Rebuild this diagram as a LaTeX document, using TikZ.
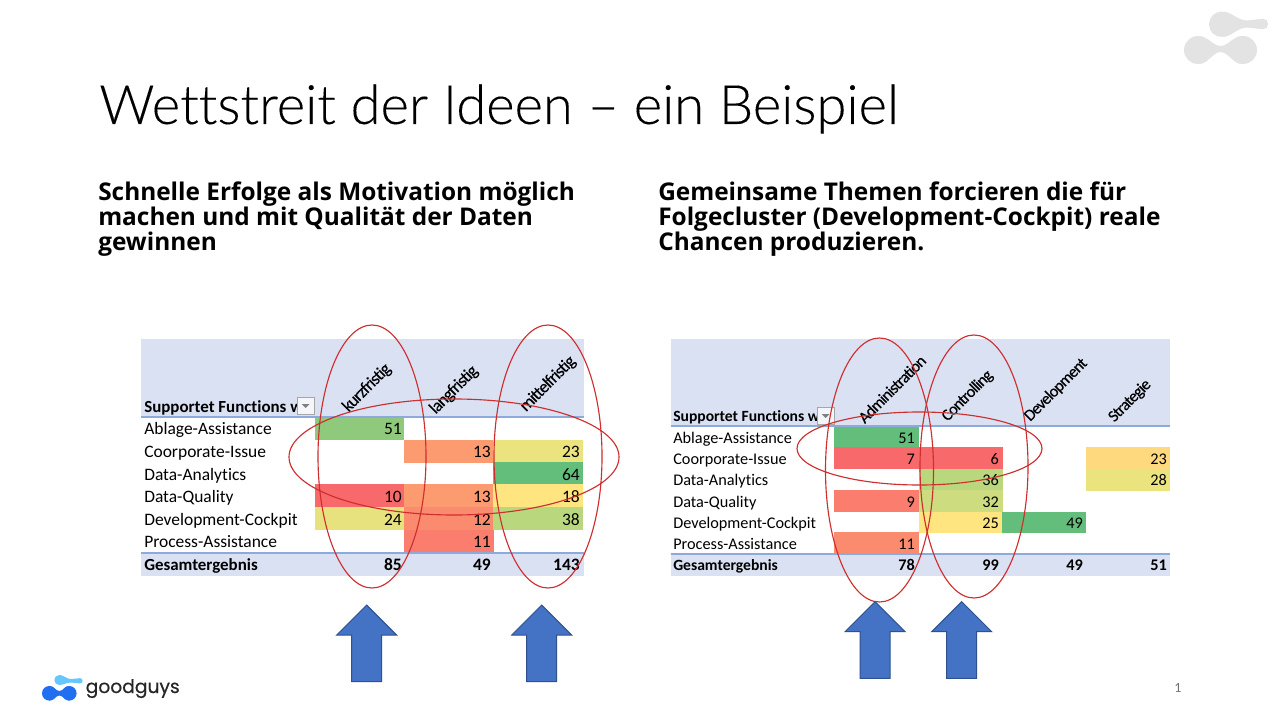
\documentclass[tikz,border=0pt]{standalone}
\usepackage{fontspec}
\setmainfont[Ligatures=NoCommon]{Carlito}
\newfontfamily\headfont{Open Sans}
\newfontfamily\logofont[FakeBold=0.4]{Poppins}
\newfontfamily\titlefont[Ligatures=NoCommon,FakeBold=0.15]{Lato Light}
\newfontfamily\colfont[Ligatures=NoCommon,LetterSpace=-5,FakeBold=0.3]{Carlito}
\definecolor{band}{HTML}{D9E1F2}
\definecolor{rulecol}{HTML}{8EA9DB}
\definecolor{oval}{HTML}{CF2E2E}
\definecolor{arrowfill}{HTML}{4472C4}
\definecolor{arrowline}{HTML}{2F528F}
\definecolor{logogrey}{HTML}{E3E3E3}
\definecolor{logolight}{HTML}{66C7FF}
\definecolor{logoblue}{HTML}{1F6FF0}
\definecolor{cA}{HTML}{8FC97B}
\definecolor{cB}{HTML}{FC9A70}
\definecolor{cC}{HTML}{EBE37E}
\definecolor{cD}{HTML}{63BE7B}
\definecolor{cE}{HTML}{F8696B}
\definecolor{cF}{HTML}{FFE57F}
\definecolor{cG}{HTML}{E8E27E}
\definecolor{cH}{HTML}{FB8B6E}
\definecolor{cI}{HTML}{B9D87E}
\definecolor{cJ}{HTML}{FA7D6E}
\definecolor{cK}{HTML}{FFD97E}
\definecolor{cL}{HTML}{CCDC7E}
\tikzset{
  titletext/.style={anchor=base west,inner sep=0pt,font=\titlefont\fontsize{40.75}{41}\selectfont},
  subhead/.style={anchor=base west,inner sep=0pt,align=left,font=\headfont\bfseries\fontsize{18.3}{18.75}\selectfont},
  rowlabel/.style={anchor=base west,inner sep=0pt,font=\fontsize{13.1}{14}\selectfont},
  rowbold/.style={anchor=base west,inner sep=0pt,font=\bfseries\fontsize{12.7}{14}\selectfont},
  num/.style={anchor=base east,inner sep=0pt,font=\fontsize{13.1}{14}\selectfont},
  numbold/.style={anchor=base east,inner sep=0pt,font=\bfseries\fontsize{13.1}{14}\selectfont},
  rowlabelR/.style={anchor=base west,inner sep=0pt,font=\fontsize{12.2}{14}\selectfont},
  rowboldR/.style={anchor=base west,inner sep=0pt,font=\bfseries\fontsize{11.7}{14}\selectfont},
  numR/.style={anchor=base east,inner sep=0pt,font=\fontsize{12.2}{14}\selectfont},
  numboldR/.style={anchor=base east,inner sep=0pt,font=\bfseries\fontsize{12.2}{14}\selectfont},
  colhead/.style={rotate=45,inner sep=0pt,font=\colfont\fontsize{13}{14}\selectfont},
  colheadR/.style={rotate=45,inner sep=0pt,font=\colfont\fontsize{12.3}{14}\selectfont},
  ovalmark/.style={draw=oval,line width=0.85pt},
  uparrow/.style={fill=arrowfill,draw=arrowline,line width=0.75pt,line join=miter},
  filterbtn/.style={fill=band!30,draw=black!35,line width=0.5pt},
  filtertri/.style={fill=black!50},
  tablerule/.style={draw=rulecol,line width=0.8pt},
}
\newcommand{\cellbox}[5]{\fill[#5] (#1,#2) rectangle (#3,#4);}
\newcommand{\uparr}[3]{%
  \draw[uparrow] (#1,#2) -- (#1+30,#2+30) -- (#1+15,#2+30) -- (#1+15,#3) -- (#1-15,#3) -- (#1-15,#2+30) -- (#1-30,#2+30) -- cycle;}
\newcommand{\filterbox}[2]{%
  \filldraw[filterbtn] (#1,#2) rectangle (#1+17,#2+17);
  \fill[filtertri] (#1+4.5,#2+7) -- (#1+12.5,#2+7) -- (#1+8.5,#2+11) -- cycle;}
\begin{document}
\begin{tikzpicture}[x=0.75pt,y=-0.75pt]
\useasboundingbox (0,0) rectangle (1280,720);
\fill[white] (0,0) rectangle (1280,720);

% grey logo
\begin{scope}[fill=logogrey]
  \fill (1221.7,24.3) circle [radius=12.7];
  \fill (1263,24) circle [radius=5.2];
  \fill (1224,11.8) .. controls (1232,12.5) and (1238,20.5) .. (1247,20.5) -- (1263,18.8) -- (1263,29.2) -- (1247,27.5) .. controls (1238,27.5) and (1232,36) .. (1224,36.8) -- cycle;
  \fill (1198,50) circle [radius=14];
  \fill (1243,50) circle [radius=14];
  \fill (1198,36) .. controls (1208,36) and (1213,46) .. (1220.5,46) .. controls (1228,46) and (1233,36) .. (1243,36) -- (1243,64) .. controls (1233,64) and (1228,52) .. (1220.5,52) .. controls (1213,52) and (1208,64) .. (1198,64) -- cycle;
\end{scope}

% colour logo
\fill[logolight] (59.3,680) circle [radius=5];
\fill[logolight] (80,680.8) circle [radius=2.6];
\fill[logolight] (60,675) .. controls (64,675.5) and (67,679) .. (71,679) -- (80,678.2) -- (80,683.4) -- (71,682.5) .. controls (67,682.5) and (64,684.5) .. (60,685) -- cycle;
\fill[logoblue] (49.3,693.3) circle [radius=7.3];
\fill[logoblue] (69.3,693.3) circle [radius=7.3];
\fill[logoblue] (49.3,686) .. controls (54,686) and (56,691) .. (59.3,691) .. controls (63,691) and (65,686) .. (69.3,686) -- (69.3,700.6) .. controls (65,700.6) and (63,695.5) .. (59.3,695.5) .. controls (56,695.5) and (54,700.6) .. (49.3,700.6) -- cycle;
\node[anchor=base west,inner sep=0pt,text=black!85,font=\logofont\fontsize{14}{16}\selectfont] (brand) at (85.5,693) {goodguys};
\node[anchor=base,inner sep=0pt,text=black!55,font=\fontsize{10.5}{12}\selectfont] (pageno) at (1178,692) {1};

\node[titletext] (title) at (99,124) {Wettstreit der Ideen – ein Beispiel};
\node[subhead] (subL) at (98,251) {Schnelle Erfolge als Motivation möglich\\machen und mit Qualität der Daten\\gewinnen};
\node[subhead] (subR) at (658,251) {Gemeinsame Themen forcieren die für\\Folgecluster (Development-Cockpit) reale\\Chancen produzieren.};

% ---------- left table ----------
\fill[band] (141,339) rectangle (584,417);
\fill[band] (141,553) rectangle (584,576);
\cellbox{315}{417}{404}{439.5}{cA}
\cellbox{404}{439.5}{493}{463}{cB}
\cellbox{493}{439.5}{583}{463}{cC}
\cellbox{493}{462}{583}{484}{cD}
\cellbox{315}{484}{404}{507}{cE}
\cellbox{404}{484}{493}{507}{cB}
\cellbox{493}{484}{583}{507}{cF}
\cellbox{315}{507}{404}{529.5}{cG}
\cellbox{404}{507}{493}{529.5}{cH}
\cellbox{493}{507}{583}{529.5}{cI}
\cellbox{404}{529.5}{494}{552}{cJ}
\draw[tablerule] (141,417) -- (584,417);
\draw[tablerule] (141,553) -- (584,553);

\node[rowbold] (lh) at (144,412.3) {Supportet Functions w};
\filterbox{297}{397}
\node[colhead] (lc1) at (367,388) {kurzfristig};
\node[colhead] (lc2) at (454,390) {langfristig};
\node[colhead] (lc3) at (548,384) {mittelfristig};

\node[rowlabel] (lr1) at (144,434) {Ablage-Assistance};
\node[rowlabel] (lr2) at (144,457) {Coorporate-Issue};
\node[rowlabel] (lr3) at (144,480) {Data-Analytics};
\node[rowlabel] (lr4) at (144,502) {Data-Quality};
\node[rowlabel] (lr5) at (144,525) {Development-Cockpit};
\node[rowlabel] (lr6) at (144,547) {Process-Assistance};
\node[rowbold] (lr7) at (144,570) {Gesamtergebnis};

\node[num] (ln1) at (402,434) {51};
\node[num] (ln2) at (491,457) {13};
\node[num] (ln3) at (580,457) {23};
\node[num] (ln4) at (580,480) {64};
\node[num] (ln5) at (402,502) {10};
\node[num] (ln6) at (491,502) {13};
\node[num] (ln7) at (580,502) {18};
\node[num] (ln8) at (402,525) {24};
\node[num] (ln9) at (491,525) {12};
\node[num] (ln10) at (580,525) {38};
\node[num] (ln11) at (491,547) {11};
\node[numbold] (ln12) at (402,570) {85};
\node[numbold] (ln13) at (491,570) {49};
\node[numbold] (ln14) at (580,570) {143};

% ---------- right table ----------
\fill[band] (670.5,339) rectangle (1170,426);
\fill[band] (670.5,554) rectangle (1170,575.7);
\cellbox{834}{426}{919}{447}{cD}
\cellbox{834}{447}{919}{469}{cE}
\cellbox{919}{447}{1002.5}{469}{cE}
\cellbox{1086}{447}{1170}{469}{cK}
\cellbox{919}{469}{1002.5}{490}{cI}
\cellbox{1086}{469}{1170}{490.5}{cC}
\cellbox{834}{490}{919}{512}{cJ}
\cellbox{919}{490}{1002.5}{512}{cL}
\cellbox{919}{511.5}{1002}{533}{cF}
\cellbox{1002}{511.5}{1086}{533}{cD}
\cellbox{834}{532}{919}{553.5}{cH}
\draw[tablerule] (670.5,426) -- (1170,426);
\draw[tablerule] (670.5,554) -- (1170,554);

\node[rowboldR] (rh) at (673,421.7) {Supportet Functions w};
\filterbox{817}{407}
\node[colheadR] (rc1) at (892,389) {Administration};
\node[colheadR] (rc2) at (967.5,396) {Controlling};
\node[colheadR] (rc3) at (1056,390) {Development};
\node[colheadR] (rc4) at (1130,401) {Strategie};

\node[rowlabelR] (rr1) at (673,443) {Ablage-Assistance};
\node[rowlabelR] (rr2) at (673,464) {Coorporate-Issue};
\node[rowlabelR] (rr3) at (673,485) {Data-Analytics};
\node[rowlabelR] (rr4) at (673,507) {Data-Quality};
\node[rowlabelR] (rr5) at (673,528) {Development-Cockpit};
\node[rowlabelR] (rr6) at (673,549) {Process-Assistance};
\node[rowboldR] (rr7) at (673,570) {Gesamtergebnis};

\node[numR] (rn1) at (915,443) {51};
\node[numR] (rn2) at (915,464) {7};
\node[numR] (rn3) at (999,464) {6};
\node[numR] (rn4) at (1167,464) {23};
\node[numR] (rn5) at (999,485) {36};
\node[numR] (rn6) at (1167,485) {28};
\node[numR] (rn7) at (915,507) {9};
\node[numR] (rn8) at (999,507) {32};
\node[numR] (rn9) at (999,528) {25};
\node[numR] (rn10) at (1083,528) {49};
\node[numR] (rn11) at (915,549) {11};
\node[numboldR] (rn12) at (915,570) {78};
\node[numboldR] (rn13) at (999,570) {99};
\node[numboldR] (rn14) at (1083,570) {49};
\node[numboldR] (rn15) at (1167,570) {51};

% ---------- ovals ----------
\draw[ovalmark] (372,456.5) ellipse [x radius=54,y radius=131.5];
\draw[ovalmark] (548,456.5) ellipse [x radius=54,y radius=131.5];
\draw[ovalmark] (454,457) ellipse [x radius=165,y radius=58];
\draw[ovalmark] (879.5,470) ellipse [x radius=54,y radius=132];
\draw[ovalmark] (974,466.5) ellipse [x radius=54,y radius=131.5];
\draw[ovalmark] (919.5,448.5) ellipse [x radius=122.5,y radius=36.5];

% ---------- arrows ----------
\uparr{366.7}{605}{681.7}
\uparr{541.7}{605}{681.7}
\uparr{875}{601.7}{678.3}
\uparr{961.7}{601.7}{678.3}
\end{tikzpicture}
\end{document}
